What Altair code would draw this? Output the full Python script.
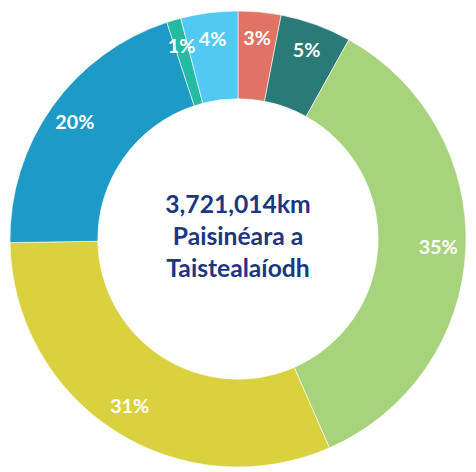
import altair as alt
import pandas as pd

labels = ["3%", "5%", "35%", "31%", "20%", "1%", "4%"]
values = [3, 5, 35, 31, 20, 1, 4]
colors = ["#E07364", "#2A7B78", "#A8D37D", "#DAD13E", "#1E9AC7", "#25BBA3", "#52C9F2"]
center_lines = ["3,721,014km", "Paisinéara a", "Taistealaíodh"]

df = pd.DataFrame({"label": labels, "value": values, "idx": list(range(len(values)))})

base = alt.Chart(df).encode(
    theta=alt.Theta("value:Q", stack=True),
    order=alt.Order("idx:Q"),
)

arcs = base.mark_arc(outerRadius=231, innerRadius=142, stroke="white", strokeWidth=0.6).encode(
    color=alt.Color("label:N", scale=alt.Scale(domain=labels, range=colors), legend=None)
)

text = base.mark_text(
    radius=203, color="white", fontSize=20, fontWeight="bold",
    font="Lato",
    align="center", baseline="middle",
).encode(text="label:N")

center = alt.Chart(pd.DataFrame({"t": [center_lines]})).mark_text(
    fontSize=25, fontWeight="bold", font="Lato", color="#1B3784",
    lineHeight=32, align="center", baseline="middle", dy=-33,
).encode(text="t", x=alt.value(233), y=alt.value(230))

chart = (arcs + text + center).properties(
    width=466, height=462, padding=0, autosize=alt.AutoSizeParams(type="none")
).configure_view(stroke=None)

chart.save("out.html", embed_options={"renderer": "svg", "actions": False})
